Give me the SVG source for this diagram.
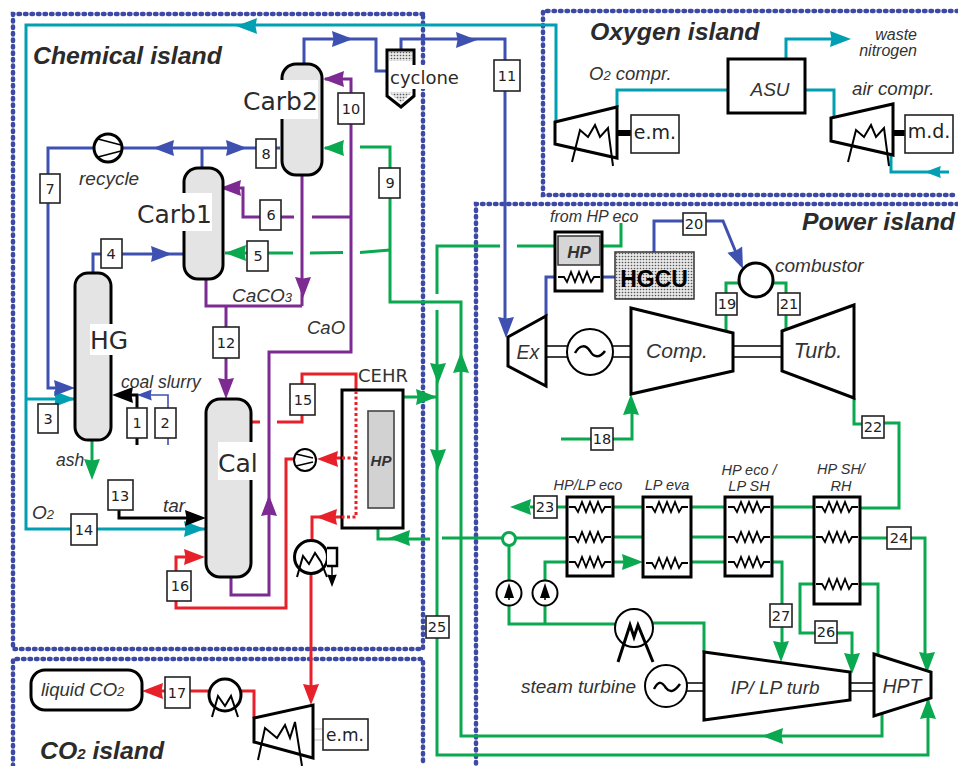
<svg xmlns="http://www.w3.org/2000/svg" width="958" height="766" viewBox="0 0 958 766" fill="none">
<style>
text{font-family:"Liberation Sans",Arial,sans-serif;fill:#333}
.it{font-style:italic}
.isl{font-style:italic;font-weight:bold;font-size:24.800px;fill:#2b2b2b}
.n{font-family:"DejaVu Sans",sans-serif;font-size:14.500px;text-anchor:middle;fill:#222}
.big{font-family:"DejaVu Sans",sans-serif;font-size:25px;fill:#2a2a2a}
.s{font-style:italic;font-size:14.500px;text-anchor:middle}
.isld{stroke:#3c4aa6;stroke-width:4.500;stroke-dasharray:1.500 5;stroke-linecap:round}
.b{stroke:#3f51b0;stroke-width:3}
.b2{stroke:#3f51b0;stroke-width:1.600}
.t{stroke:#00a0b2;stroke-width:3}
.g{stroke:#0aa84f;stroke-width:3}
.p{stroke:#7d2a92;stroke-width:3}
.r{stroke:#e8202a;stroke-width:3}
.rd{stroke:#e8202a;stroke-width:3;stroke-dasharray:3 2.500}
.k{stroke:#000;stroke-width:3}
.fb{fill:#3f51b0}.ft{fill:#00a0b2}.fg{fill:#0aa84f}.fp{fill:#7d2a92}.fr{fill:#e8202a}.fk{fill:#000}
.v{fill:#e4e4e4;stroke:#000;stroke-width:3}
.e{fill:#fff;stroke:#000;stroke-width:3}
.e2{fill:#fff;stroke:#000;stroke-width:2}
.lb{fill:#fff;stroke:#222;stroke-width:1.600}
.z{stroke:#000;stroke-width:1.800}
.wl{fill:#fff;stroke:none}
.sh{stroke:#000;stroke-width:1.600}
.sk{stroke:#000;stroke-width:2}
</style>
<defs>
<path id="a" d="M0 0L-21-8L-19.500 0L-21 8Z"/>
<path id="zz" class="z" d="M0 0L6 0L9 5L13-5L17 5L21-5L25 5L29-5L33 5L36 0L42 0"/>
<pattern id="dots" width="3" height="3" patternUnits="userSpaceOnUse"><rect width="3" height="3" fill="#e6e6e6"/><circle cx="1.500" cy="1.500" r="0.800" fill="#555"/></pattern>
</defs>
<rect width="958" height="766" fill="#fff"/>

<g id="islands">
<path class="isld" d="M423 14H13V649H423V14"/>
<path class="isld" d="M13 766V659H423V766"/>
<path class="isld" d="M958 11H543V195H958"/>
<path class="isld" d="M958 204H476V766"/>
</g>

<g id="connectors">
<path class="t" d="M556 122V25H26V529H205"/>
<path class="t" d="M26 399H75"/>
<path class="t" d="M617 107V90H728"/>
<path class="t" d="M786 58V39H835"/>
<path class="t" d="M805 90H834V117"/>
<path class="t" d="M891 155V172H949"/>

<path class="b" d="M304 64V39H376V71H388"/>
<path class="b" d="M401 50V39H505V325"/>
<path class="b" d="M280 148H48V388H60"/>
<path class="b" d="M202 148V168"/>
<path class="b" d="M93 273V254H184"/>
<path class="b" d="M546 316V277H560"/>
<path class="b" d="M600 277H615"/>
<path class="b" d="M654 252V221H723L737 255"/>
<path class="b2" d="M168 445V395H136"/>

<path class="p" d="M325 79H351V352H269V595H231V577"/>
<path class="p" d="M351 217H312M294 217H243V188H222"/>
<path class="p" d="M302 175V290M302 306H206V280M302 306V285"/>
<path class="p" d="M226 306V385"/>

<path class="g" d="M325 148H343M360 147H390V302H461V736H882V712"/>
<path class="g" d="M390 250L360 252.500M343 252.500L310 253M293 253H225"/>
<path class="g" d="M437 294V246H500M517 246H555"/>
<path class="g" d="M437 310V755H928V690"/>
<path class="g" d="M602 246H621V223"/>
<path class="g" d="M92 441V470"/>
<path class="g" d="M403 397H437"/>
<path class="g" d="M430 539H378V528"/>
<path class="g" d="M567 538H442M613 537H643M691 537H725M772 537H814M860 538H925V660"/>
<path class="g" d="M613 507H643M691 507H725M772 507H814M860 508H899V423H884M864 424H854V398"/>
<path class="g" d="M567 507H530"/>
<path class="g" d="M567 562H545V580M613 562H625M691 562H725M772 562H782V650"/>
<path class="g" d="M814 584H800V633H852V660"/>
<path class="g" d="M860 584H878V660"/>
<path class="g" d="M509 546V624H615M545 624V605"/>
<path class="g" d="M653 623H704V652"/>
<path class="g" d="M739 283H726V330"/>
<path class="g" d="M773 283H786V330"/>
<path class="g" stroke-width="2" d="M561 439H632V405"/>

<path class="r" d="M251 422H260M277 422H302V374H356V390"/>
<path class="r" d="M294 459H286V608H176V557H190"/>
<path class="r" d="M342 458H325"/>
<path class="r" d="M342 517H312V540"/>
<path class="r" d="M311 574V690"/>
<path class="r" d="M254 718V691H241M209 691H160"/>

<path class="k" d="M119 510V518H195"/>
<path class="k" d="M137 445V395H125"/>

<g id="arrowheads">
<use href="#a" class="ft" transform="translate(236,26) rotate(180)"/>
<use href="#a" class="ft" transform="translate(75,399)"/>
<use href="#a" class="ft" transform="translate(205,529)"/>
<use href="#a" class="ft" transform="translate(851,39)"/>
<use href="#a" class="ft" transform="translate(925,172) rotate(180) scale(.75)"/>
<use href="#a" class="fb" transform="translate(353,39)"/>
<use href="#a" class="fb" transform="translate(477,40)"/>
<use href="#a" class="fb" transform="translate(153,148) rotate(180)"/>
<use href="#a" class="fb" transform="translate(247,148)"/>
<use href="#a" class="fb" transform="translate(172,254)"/>
<use href="#a" class="fb" transform="translate(75,388)"/>
<use href="#a" class="fb" transform="translate(506,338) rotate(90)"/>
<use href="#a" class="fb" transform="translate(743,269) rotate(67)"/>
<use href="#a" class="fb" transform="translate(137,395) rotate(180) scale(.7)"/>
<use href="#a" class="fp" transform="translate(323,79) rotate(180)"/>
<use href="#a" class="fp" transform="translate(220,188) rotate(180)"/>
<use href="#a" class="fp" transform="translate(303,298) rotate(90)"/>
<use href="#a" class="fp" transform="translate(226,399) rotate(90)"/>
<use href="#a" class="fp" transform="translate(269,495) rotate(-90)"/>
<use href="#a" class="fg" transform="translate(323,148) rotate(180)"/>
<use href="#a" class="fg" transform="translate(225,253) rotate(180)"/>
<use href="#a" class="fg" transform="translate(92,480) rotate(90)"/>
<use href="#a" class="fg" transform="translate(437,397)"/>
<use href="#a" class="fg" transform="translate(438,384) rotate(90)"/>
<use href="#a" class="fg" transform="translate(438,470) rotate(90)"/>
<use href="#a" class="fg" transform="translate(461,352) rotate(-90)"/>
<use href="#a" class="fg" transform="translate(389,538) rotate(180)"/>
<use href="#a" class="fg" transform="translate(510,507) rotate(180)"/>
<use href="#a" class="fg" transform="translate(643,562)"/>
<use href="#a" class="fg" transform="translate(781,662) rotate(90)"/>
<use href="#a" class="fg" transform="translate(852,674) rotate(90)"/>
<use href="#a" class="fg" transform="translate(927,673) rotate(90)"/>
<use href="#a" class="fg" transform="translate(928,698) rotate(-90)"/>
<use href="#a" class="fg" transform="translate(762,736) rotate(180)"/>
<use href="#a" class="fg" transform="translate(631,394) rotate(-90)"/>
<use href="#a" class="fr" transform="translate(205,557)"/>
<use href="#a" class="fr" transform="translate(317,459) rotate(180)"/>
<use href="#a" class="fr" transform="translate(316,517) rotate(180)"/>
<use href="#a" class="fr" transform="translate(311,705) rotate(90)"/>
<use href="#a" class="fr" transform="translate(142,691) rotate(180)"/>
<use href="#a" class="fk" transform="translate(112,395) rotate(180)"/>
<use href="#a" class="fk" transform="translate(206,518)"/>
</g>
</g>

<g id="carb2"><rect class="v" x="282" y="64" width="40" height="111" rx="14"/><rect class="wl" x="243" y="80" width="75" height="39"/><text class="big" x="243" y="110">Carb2</text></g>
<g id="carb1"><rect class="v" x="184" y="168" width="39" height="111" rx="14"/><rect class="wl" x="137" y="193" width="75" height="38"/><text class="big" x="137" y="223">Carb1</text></g>
<g id="hg"><rect class="v" x="75" y="273" width="36" height="167" rx="13"/><rect class="wl" x="90" y="324" width="40" height="31"/><text class="big" x="90" y="349">HG</text></g>
<g id="cal"><rect class="v" x="206" y="399" width="45" height="178" rx="14"/><rect class="wl" x="218" y="442" width="40" height="38"/><text class="big" x="218" y="472">Cal</text></g>

<g id="cyclone">
<path d="M387 50H414V96L401 107L387 96Z" fill="#fff" stroke="#000" stroke-width="3"/>
<rect x="389" y="52" width="23" height="9" fill="url(#dots)"/>
<path d="M389 92H412L401 103Z" fill="url(#dots)"/>
<rect class="wl" x="390" y="65" width="68" height="24"/>
<text class="big" style="font-size:18px" x="390" y="84">cyclone</text>
</g>
<g id="recycle-pump"><circle class="e" cx="108" cy="148" r="14"/><path class="sh" d="M98 139L121 145M98 157L121 151"/></g>

<g id="cehr">
<rect class="e" x="342" y="390" width="61" height="138"/>
<rect x="368" y="411" width="26" height="97" fill="#d2d2d2" stroke="#444" stroke-width="1.600"/>
<text x="381" y="466" style="font-style:italic;font-weight:bold;font-size:15px;text-anchor:middle">HP</text>
<text x="358" y="382" style="font-family:'DejaVu Sans',sans-serif;font-size:18px">CEHR</text>
<path class="rd" d="M356 391V517H341M356 458H340"/>
</g>
<g id="red-pump"><circle class="e2" cx="305" cy="460" r="11"/><path class="sh" d="M296 454L313 458M296 466L313 462"/></g>
<g id="cooler-1">
<circle class="e" cx="311" cy="557" r="16.500"/>
<path class="sk" d="M297 577L303 556L309 564L315 553L321 562L327 577"/>
<path d="M327 548H337V566H327" fill="#fff" stroke="#000" stroke-width="2.500"/>
<path d="M332 566V578" stroke="#000" stroke-width="1.500"/>
<use href="#a" class="fk" transform="translate(332,587) rotate(90) scale(.6)"/>
</g>

<g id="liquid-co2"><rect class="e" x="31" y="670" width="111" height="40" rx="14"/><text x="41" y="696" style="font-style:italic;font-size:18.500px">liquid CO<tspan font-size="13">2</tspan></text></g>
<g id="cooler-2"><circle class="e" cx="225" cy="695" r="16"/><path class="sk" d="M212 717L218 696L225 706L231 696L238 717"/></g>
<g id="co2-comp">
<path d="M313 729H323M313 740H323" stroke="#bbb" stroke-width="1.200"/>
<path class="e" d="M254 718L313 705V758L254 742Z"/>
<polyline class="sk" points="258,760 265,728 277,738 285,725 290,738 295,722 302,766"/>
<rect class="lb" x="323" y="719" width="45" height="31"/>
<text class="n" style="font-size:17px" x="345" y="741">e.m.</text>
</g>

<g id="o2-comp">
<path d="M617 133H631" stroke="#000" stroke-width="6"/>
<path class="e" d="M555 122L617 107V158L555 144Z"/>
<polyline class="sk" points="572,162 580,130 588,137 595,125 600,137 608,128 613,166"/>
<rect class="lb" x="631" y="115" width="48" height="38"/>
<text class="n" style="font-size:19px" x="655" y="139">e.m.</text>
</g>
<g id="air-comp">
<path d="M893 133H905" stroke="#000" stroke-width="6"/>
<path class="e" d="M831 118L893 104V155L831 141Z"/>
<polyline class="sk" points="848,162 856,130 864,137 871,125 876,137 884,128 889,166"/>
<rect class="lb" x="905" y="115" width="48" height="38"/>
<text class="n" style="font-size:19px" x="929" y="138">m.d.</text>
</g>
<g id="asu"><rect class="e" x="728" y="59" width="77" height="54"/><text x="770" y="96" style="font-style:italic;font-size:19px;text-anchor:middle">ASU</text></g>

<g id="hp-top">
<rect x="555" y="232" width="47" height="59" fill="#fff" stroke="#000" stroke-width="3"/>
<rect x="558" y="236" width="42" height="29" fill="#d6d6d6" stroke="#333" stroke-width="1.500"/>
<text x="579" y="258" style="font-style:italic;font-weight:bold;font-size:17px;text-anchor:middle">HP</text>
<use href="#zz" transform="translate(558,277)"/>
</g>
<g id="hgcu"><rect x="615" y="252" width="79" height="47" fill="url(#dots)" stroke="#333" stroke-width="1.500"/><text x="654" y="287" style="font-weight:bold;font-size:23px;text-anchor:middle;fill:#000">HGCU</text></g>
<g id="combustor"><circle class="e" cx="756" cy="280" r="17"/></g>
<g id="ex"><path class="e" d="M508 337L546 316V386L508 366Z"/><text x="528" y="359" style="font-style:italic;font-size:19.500px;text-anchor:middle">Ex</text></g>
<g id="shafts"><path class="sh" d="M546 346H567M546 357H567M613 346H631M613 357H631M733 346H782M733 357H782M687 683H704M687 691H704M850 683H874M850 691H874"/></g>
<g id="generator"><circle class="e2" cx="590" cy="352" r="23"/><path d="M575 353C580 344 586 345 590 351C594 358 600 358 605 351" stroke="#000" stroke-width="2.500"/></g>
<g id="comp"><path class="e" d="M631 308L733 333V371L631 394Z"/><text x="677" y="358" style="font-style:italic;font-size:21px;text-anchor:middle">Comp.</text></g>
<g id="turb"><path class="e" d="M782 331L854 305V398L782 371Z"/><text x="818" y="358" style="font-style:italic;font-size:21.500px;text-anchor:middle">Turb.</text></g>

<g id="hx1"><rect class="e" x="567" y="497" width="46" height="79"/><use href="#zz" transform="translate(569,507)"/><use href="#zz" transform="translate(569,537)"/><use href="#zz" transform="translate(569,562)"/></g>
<g id="hx2"><rect class="e" x="643" y="497" width="48" height="80"/><use href="#zz" transform="translate(646,507)"/><use href="#zz" transform="translate(646,563)"/></g>
<g id="hx3"><rect class="e" x="725" y="497" width="47" height="79"/><use href="#zz" transform="translate(728,507)"/><use href="#zz" transform="translate(728,537)"/><use href="#zz" transform="translate(728,562)"/></g>
<g id="hx4"><rect class="e" x="814" y="497" width="46" height="107"/><use href="#zz" transform="translate(816,507)"/><use href="#zz" transform="translate(816,537)"/><use href="#zz" transform="translate(816,584)"/></g>
<g id="split"><circle cx="509" cy="539" r="6.500" fill="#fff" stroke="#0aa84f" stroke-width="3"/></g>
<g id="pump-a"><circle class="e2" cx="509" cy="593" r="12.500"/><path d="M509 600V586" stroke="#000" stroke-width="1.500"/><path d="M509 583L504 598H514Z" fill="#000"/></g>
<g id="pump-b"><circle class="e2" cx="545" cy="593" r="12.500"/><path d="M545 600V586" stroke="#000" stroke-width="1.500"/><path d="M545 583L540 598H550Z" fill="#000"/></g>
<g id="condenser"><circle class="e2" cx="634" cy="628" r="19"/><path d="M618 662L630 625L634 637L638 625L653 662" stroke="#000" stroke-width="3"/></g>
<g id="st-gen"><circle class="e2" cx="666" cy="686" r="21"/><path d="M654 689C659 680 662 682 666 688C670 693 674 692 680 684" stroke="#000" stroke-width="2.500"/></g>
<g id="ip-lp"><path class="e" d="M704 652L850 672V700L704 720Z"/><text x="775" y="694" style="font-style:italic;font-size:19px;text-anchor:middle">IP/ LP turb</text></g>
<g id="hpt"><path class="e" d="M874 654L931 672V698L874 716Z"/><text x="902" y="693" style="font-style:italic;font-size:19.500px;text-anchor:middle">HPT</text></g>

<g id="labels">
<g><rect class="lb" x="127" y="408" width="20" height="30"/><text class="n" x="137" y="428">1</text></g>
<g><rect class="lb" x="155" y="408" width="21" height="30"/><text class="n" x="165" y="428">2</text></g>
<g><rect class="lb" x="38" y="404" width="20" height="29"/><text class="n" x="48" y="424">3</text></g>
<g><rect class="lb" x="101" y="239" width="21" height="29"/><text class="n" x="111" y="259">4</text></g>
<g><rect class="lb" x="247" y="241" width="21" height="30"/><text class="n" x="258" y="261">5</text></g>
<g><rect class="lb" x="260" y="200" width="21" height="30"/><text class="n" x="271" y="220">6</text></g>
<g><rect class="lb" x="40" y="174" width="20" height="29"/><text class="n" x="50" y="194">7</text></g>
<g><rect class="lb" x="256" y="139" width="20" height="29"/><text class="n" x="266" y="159">8</text></g>
<g><rect class="lb" x="379" y="168" width="21" height="30"/><text class="n" x="390" y="188">9</text></g>
<g><rect class="lb" x="338" y="93" width="26" height="31"/><text class="n" x="351" y="114">10</text></g>
<g><rect class="lb" x="494" y="60" width="26" height="31"/><text class="n" x="507" y="81">11</text></g>
<g><rect class="lb" x="213" y="327" width="26" height="31"/><text class="n" x="226" y="348">12</text></g>
<g><rect class="lb" x="108" y="480" width="25" height="30"/><text class="n" x="120" y="501">13</text></g>
<g><rect class="lb" x="71" y="514" width="26" height="31"/><text class="n" x="84" y="535">14</text></g>
<g><rect class="lb" x="290" y="384" width="25" height="31"/><text class="n" x="303" y="405">15</text></g>
<g><rect class="lb" x="167" y="571" width="24" height="30"/><text class="n" x="180" y="591">16</text></g>
<g><rect class="lb" x="165" y="677" width="25" height="31"/><text class="n" x="177" y="698">17</text></g>
<g><rect class="lb" x="591" y="428" width="22" height="22"/><text class="n" x="602" y="444">18</text></g>
<g><rect class="lb" x="716" y="293" width="21" height="22"/><text class="n" x="727" y="309">19</text></g>
<g><rect class="lb" x="683" y="213" width="23" height="22"/><text class="n" x="694" y="229">20</text></g>
<g><rect class="lb" x="778" y="293" width="22" height="22"/><text class="n" x="789" y="309">21</text></g>
<g><rect class="lb" x="862" y="416" width="22" height="22"/><text class="n" x="873" y="432">22</text></g>
<g><rect class="lb" x="534" y="496" width="23" height="22"/><text class="n" x="545" y="512">23</text></g>
<g><rect class="lb" x="887" y="527" width="24" height="22"/><text class="n" x="899" y="543">24</text></g>
<g><rect class="lb" x="426" y="616" width="23" height="22"/><text class="n" x="437" y="632">25</text></g>
<g><rect class="lb" x="815" y="621" width="22" height="22"/><text class="n" x="826" y="637">26</text></g>
<g><rect class="lb" x="770" y="604" width="22" height="23"/><text class="n" x="781" y="621">27</text></g>
</g>

<g id="annotations">
<text class="isl" x="33" y="64">Chemical island</text>
<text class="isl" x="590" y="40">Oxygen island</text>
<text class="isl" x="802" y="230">Power island</text>
<text class="isl" x="40" y="759">CO<tspan font-size="15">2</tspan> island</text>
<text class="it" x="79" y="185" style="font-size:19px">recycle</text>
<text class="it" x="232" y="302" style="font-size:19px">CaCO<tspan font-size="13">3</tspan></text>
<text class="it" x="307" y="334" style="font-size:18.500px">CaO</text>
<text class="it" x="163" y="512" style="font-size:19px">tar</text>
<text class="it" x="32" y="519" style="font-size:19px">O<tspan font-size="13">2</tspan></text>
<text class="it" x="121" y="388" style="font-size:17.500px">coal slurry</text>
<text class="it" x="56" y="466" style="font-size:17.500px">ash</text>
<text class="it" x="589" y="80" style="font-size:18.500px">O<tspan font-size="13">2</tspan> compr.</text>
<text class="it" x="852" y="95" style="font-size:18.700px">air compr.</text>
<text class="it" x="917" y="40" style="font-size:16px;text-anchor:end">waste</text>
<text class="it" x="917" y="56" style="font-size:16px;text-anchor:end">nitrogen</text>
<text class="it" x="550" y="222" style="font-size:16px">from HP eco</text>
<text class="it" x="775" y="272" style="font-size:19px">combustor</text>
<text class="s" x="588" y="490">HP/LP eco</text>
<text class="s" x="667" y="490">LP eva</text>
<text class="s" x="749" y="475">HP eco /</text>
<text class="s" x="749" y="491">LP SH</text>
<text class="s" x="841" y="474">HP SH/</text>
<text class="s" x="841" y="491">RH</text>
<text class="it" x="521" y="693" style="font-size:19px">steam turbine</text>
</g>
</svg>
